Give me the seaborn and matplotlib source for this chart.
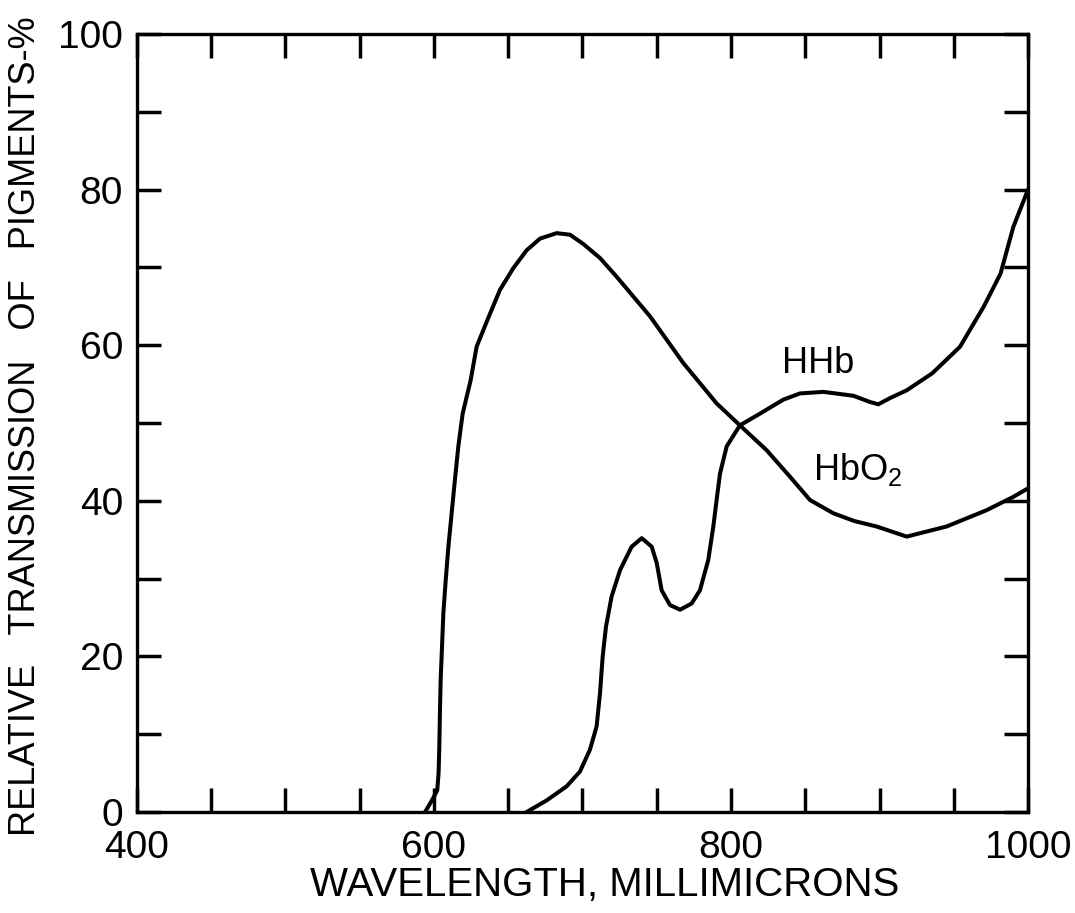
import numpy as np
import pandas as pd
import matplotlib
matplotlib.use("Agg")
import matplotlib.pyplot as plt
import seaborn as sns
from matplotlib.ticker import MultipleLocator

# wavelength (millimicrons) and relative transmission (%)
hbo2_wl = [594, 596.2, 599.5, 602.2, 603.1, 603.6, 604, 604.5, 605.4, 606.3, 607.9, 609.7,
           611.9, 614.1, 616.4, 619.3, 624.7, 628.7, 635.9, 644.4, 653.4, 662.4, 671.4,
           682.6, 691.6, 700.6, 711.8, 723, 745.5, 767.9, 790.4, 806, 824, 839.7, 853.2,
           868.9, 883, 898, 918.3, 945.2, 972.2, 990, 1000]
hbo2_tr = [0, 0.7, 1.8, 2.8, 5.0, 8.4, 12.7, 17.0, 21.2, 25.5, 29.8, 34.1,
           38.4, 42.7, 47.0, 51.2, 55.5, 59.8, 63.2, 67.1, 69.9, 72.2, 73.7,
           74.4, 74.2, 73.0, 71.2, 68.8, 63.7, 57.7, 52.5, 49.7, 46.5, 43.1, 40.1,
           38.4, 37.4, 36.7, 35.4, 36.7, 38.8, 40.5, 41.6]

hhb_wl = [662.4, 675.9, 689.3, 698.3, 705, 709.5, 711.8, 713.6, 715.8, 719.6, 725.3, 733.1,
          739.9, 746.6, 750, 753.3, 758.9, 765.7, 773.5, 779.1, 784.7, 788.1, 790.3, 792.6,
          797.1, 806, 819.5, 835.2, 846.5, 862.2, 882.4, 893.6, 899.2, 907.1, 918.3, 935.6,
          954.2, 970.3, 981.5, 990.1, 1000]
hhb_tr = [0, 1.5, 3.3, 5.2, 8.0, 11.0, 15.3, 20.0, 23.8, 27.7, 31.1, 34.1,
          35.2, 34.1, 32.0, 28.5, 26.6, 26.0, 26.8, 28.5, 32.4, 36.7, 40.1, 43.5,
          47.0, 49.7, 51.2, 53.0, 53.8, 54.0, 53.5, 52.7, 52.4, 53.2, 54.2, 56.4,
          59.8, 65.0, 69.2, 75.2, 80.0]

pigments = ["HbO$_2$", "HHb"]
label_pos = [(885, 44), (859, 57.7)]

df = pd.concat([
    pd.DataFrame({"wavelength": hbo2_wl, "transmission": hbo2_tr, "pigment": pigments[0]}),
    pd.DataFrame({"wavelength": hhb_wl, "transmission": hhb_tr, "pigment": pigments[1]}),
])

sns.set_style("white")
plt.rcParams["font.family"] = ["Liberation Sans", "DejaVu Sans"]
plt.rcParams["mathtext.default"] = "regular"
plt.rcParams["text.color"] = "black"
plt.rcParams["axes.labelcolor"] = "black"

fig = plt.figure(figsize=(10.75, 9.13), dpi=100)
ax = fig.add_axes([0.1274, 0.1106, 0.8289, 0.8522])

sns.lineplot(data=df, x="wavelength", y="transmission", hue="pigment",
             palette={p: "black" for p in pigments}, estimator=None, sort=True,
             linewidth=2.9, legend=False, ax=ax)
for ln in ax.lines:
    ln.set_solid_joinstyle("round")
    ln.set_solid_capstyle("round")

for name, (x, y) in zip(pigments, label_pos):
    ax.text(x, y, name, fontsize=26, ha="center", va="center", color="black")

ax.set_xlim(400, 1000)
ax.set_ylim(0, 100)
ax.xaxis.set_major_locator(MultipleLocator(200))
ax.xaxis.set_minor_locator(MultipleLocator(50))
ax.yaxis.set_major_locator(MultipleLocator(20))
ax.yaxis.set_minor_locator(MultipleLocator(10))
ax.tick_params(which="both", direction="in", length=17, width=2.5,
               bottom=True, left=True, top=True, right=True, colors="black")
ax.tick_params(axis="y", which="major", labelsize=28, pad=10)
ax.tick_params(axis="x", which="major", labelsize=28, pad=13)

for s in ax.spines.values():
    s.set_linewidth(2.4)
    s.set_color("black")

ax.set_xlabel("WAVELENGTH, MILLIMICRONS", fontsize=29)
ax.set_ylabel("RELATIVE   TRANSMISSION   OF   PIGMENTS-%", fontsize=26)
ax.xaxis.set_label_coords(0.525, -0.069)
ax.yaxis.set_label_coords(-0.105, 0.496)

fig.savefig("out.png", dpi=100)
